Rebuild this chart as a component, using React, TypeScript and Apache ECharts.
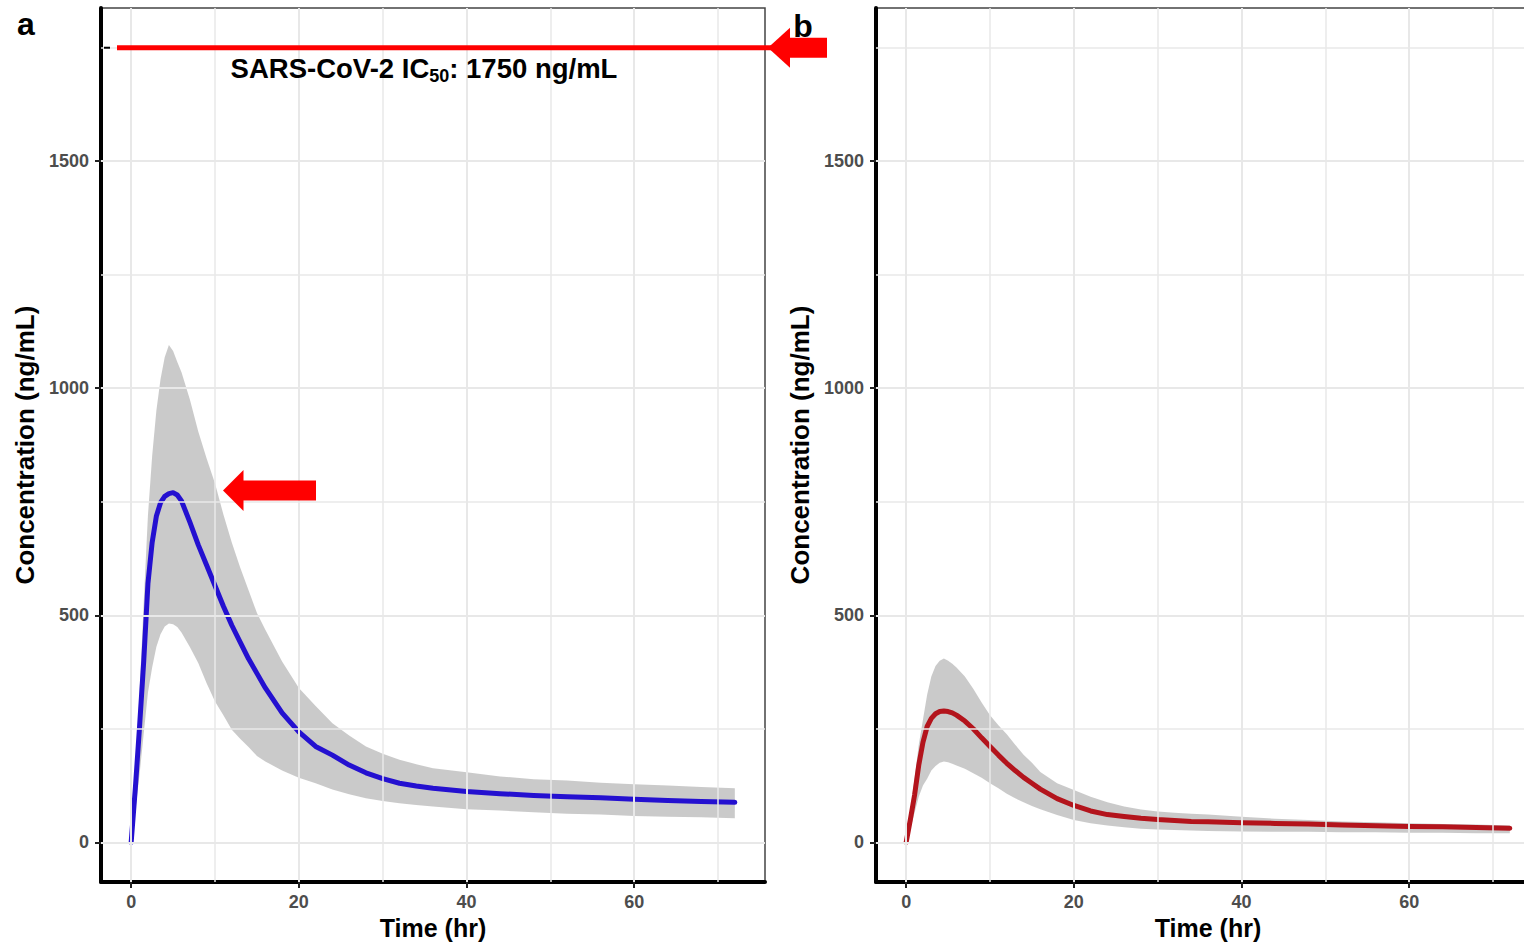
import React, { useEffect, useRef } from "react";
import * as echarts from "echarts";

const time = [0, 0.5, 1, 1.5, 2, 2.5, 3, 3.5, 4, 4.5, 5, 5.5, 6, 7, 8, 9, 10, 11, 12, 13, 14, 15, 16, 18, 20, 22, 24, 26, 28, 30, 32, 34, 36, 40, 44, 48, 52, 56, 60, 64, 68, 72];

const medianA = [0, 120, 255, 400, 570, 660, 718, 748, 762, 768, 770, 765, 752, 705, 655, 610, 565, 520, 478, 441, 404, 372, 340, 285, 243, 211, 192, 170, 153, 140, 130, 124, 119, 112, 107, 103, 100, 98, 95, 92, 90, 88];
const upperA = [0, 150, 330, 530, 720, 850, 950, 1020, 1068, 1095, 1082, 1058, 1035, 975, 905, 845, 790, 722, 660, 605, 555, 505, 468, 398, 340, 300, 262, 235, 211, 195, 182, 172, 163, 154, 145, 139, 136, 131, 128, 125, 122, 119];
const lowerA = [0, 70, 150, 240, 330, 385, 430, 458, 475, 482, 480, 474, 462, 430, 395, 350, 310, 280, 248, 228, 210, 190, 178, 158, 142, 130, 116, 106, 97, 91, 86, 82, 79, 73, 70, 66, 63, 61, 58, 56, 55, 53];

const medianB = [0, 50, 104, 170, 220, 255, 273, 283, 288, 289, 288, 285, 280, 267, 250, 230, 211, 192, 174, 158, 143, 130, 117, 96, 81, 69, 61, 57, 53, 50, 48, 46, 45, 43, 41.5, 40, 38, 36.5, 35, 34, 32.5, 31];
const upperB = [0, 70, 140, 215, 270, 325, 365, 388, 400, 405, 400, 393, 385, 365, 338, 308, 280, 258, 238, 215, 193, 175, 155, 130, 115, 100, 88, 79, 72, 68, 65, 63, 61, 56, 52, 49, 46, 44, 42, 40, 39, 37];
const lowerB = [0, 30, 65, 100, 125, 140, 158, 168, 175, 178, 176, 173, 169, 162, 152, 142, 130, 119, 107, 97, 88, 80, 73, 60, 49, 42, 37, 33, 30, 28, 27, 26, 25, 24, 23, 23, 22, 22, 21, 21, 20, 20];

const xTicks = [0, 20, 40, 60];
const yTicks = [0, 500, 1000, 1500];
const xGridMajor = [0, 20, 40, 60];
const xGridMinor = [10, 30, 50, 70];
const yGridMajor = [0, 500, 1000, 1500];
const yGridMinor = [250, 750, 1250, 1750];
const IC50 = 1750;

const X_MIN = -3.6;
const X_MAX = 75.6;
const Y_MIN = -87.5;
const Y_MAX = 1837.5;

const FONT = '"Liberation Sans", Arial, sans-serif';
const BLUE = "#2410D0";
const RED = "#B3141C";
const BAND = "rgba(150,150,150,0.5)";
const GRIDC = "#e8e8e8";

function xAxisFor(gridIndex: number) {
  return {
    type: "value",
    gridIndex,
    min: X_MIN,
    max: X_MAX,
    name: "Time (hr)",
    nameLocation: "middle",
    nameGap: 32,
    nameTextStyle: { fontSize: 25, fontWeight: "bold", color: "#000", fontFamily: FONT },
    axisLine: { show: true, onZero: false, lineStyle: { color: "#000", width: 4 } },
    axisTick: { show: true, customValues: xTicks, length: 6, lineStyle: { color: "#222", width: 2 } },
    axisLabel: { show: true, customValues: xTicks, formatter: (v: number) => String(v), fontSize: 18, fontWeight: "bold", color: "#4d4d4d", margin: 11, fontFamily: FONT },
    splitLine: { show: false },
  };
}

function yAxisFor(gridIndex: number) {
  return {
    type: "value",
    gridIndex,
    min: Y_MIN,
    max: Y_MAX,
    name: "Concentration (ng/mL)",
    nameLocation: "middle",
    nameGap: 63,
    nameRotate: 90,
    nameTextStyle: { fontSize: 26, fontWeight: "bold", color: "#000", fontFamily: FONT },
    axisLine: { show: true, onZero: false, lineStyle: { color: "#000", width: 4 } },
    axisTick: { show: true, customValues: yTicks, length: 6, lineStyle: { color: "#222", width: 2 } },
    axisLabel: { show: true, customValues: yTicks, formatter: (v: number) => String(v), fontSize: 18, fontWeight: "bold", color: "#4d4d4d", margin: 12, fontFamily: FONT },
    splitLine: { show: false },
  };
}

function gridSeries(idx: number) {
  const data: any[] = [];
  xGridMajor.forEach((v) => data.push({ xAxis: v, lineStyle: { width: 2 } }));
  xGridMinor.forEach((v) => data.push({ xAxis: v, lineStyle: { width: 1.5 } }));
  yGridMajor.forEach((v) => data.push({ yAxis: v, lineStyle: { width: 2 } }));
  yGridMinor.forEach((v) => data.push({ yAxis: v, lineStyle: { width: 1.5 } }));
  return {
    type: "line",
    xAxisIndex: idx,
    yAxisIndex: idx,
    data: [],
    silent: true,
    z: 1,
    markLine: {
      silent: true,
      symbol: ["none", "none"],
      label: { show: false },
      animation: false,
      lineStyle: { color: GRIDC, type: "solid", width: 2 },
      emphasis: { disabled: true },
      data,
    },
  };
}

function bandSeries(idx: number, upper: number[], lower: number[]) {
  return {
    type: "custom",
    xAxisIndex: idx,
    yAxisIndex: idx,
    silent: true,
    z: 2,
    data: [[time[0], lower[0]]],
    renderItem: (_params: any, api: any) => {
      const pts: number[][] = [];
      for (let i = 0; i < time.length; i++) pts.push(api.coord([time[i], upper[i]]));
      for (let i = time.length - 1; i >= 0; i--) pts.push(api.coord([time[i], lower[i]]));
      return { type: "polygon", shape: { points: pts }, style: { fill: BAND, stroke: null } };
    },
  };
}

function medianSeries(idx: number, values: number[], color: string) {
  return {
    type: "line",
    xAxisIndex: idx,
    yAxisIndex: idx,
    silent: true,
    z: 3,
    showSymbol: false,
    symbol: "none",
    lineStyle: { color, width: 5, cap: "round", join: "round" },
    data: time.map((t, i) => [t, values[i]]),
  };
}

function measure(text: string, font: string): number {
  const c = document.createElement("canvas").getContext("2d");
  if (!c) return text.length * 12;
  c.font = font;
  return c.measureText(text).width;
}

export default function App() {
  const ref = useRef<HTMLDivElement>(null);
  useEffect(() => {
    const el = ref.current;
    if (!el) return;
    const chart = echarts.init(el, null, { renderer: "svg", width: 1524, height: 944 });
    chart.setOption({
      animation: false,
      backgroundColor: "#fff",
      grid: [
        { left: 101, top: 8, width: 664, height: 874, outerBoundsMode: "none", containLabel: false, show: true, borderColor: "#444", borderWidth: 1.5, backgroundColor: "transparent" },
        { left: 876, top: 8, width: 664, height: 874, outerBoundsMode: "none", containLabel: false, show: true, borderColor: "#444", borderWidth: 1.5, backgroundColor: "transparent" },
      ],
      xAxis: [xAxisFor(0), xAxisFor(1)],
      yAxis: [yAxisFor(0), yAxisFor(1)],
      series: [
        gridSeries(0),
        bandSeries(0, upperA, lowerA),
        medianSeries(0, medianA, BLUE),
        gridSeries(1),
        bandSeries(1, upperB, lowerB),
        medianSeries(1, medianB, RED),
      ],
    });

    const p = chart.convertToPixel({ gridIndex: 0 }, [0, IC50]) as number[];
    const yIC = p[1];

    const mainSize = 27.5;
    const subSize = 18;
    const part1 = "SARS-CoV-2 IC";
    const part2 = "50";
    const part3 = ": 1750 ng/mL";
    const w1 = measure(part1, `bold ${mainSize}px ${FONT}`);
    const w2 = measure(part2, `bold ${subSize}px ${FONT}`);
    const w3 = measure(part3, `bold ${mainSize}px ${FONT}`);
    const total = w1 + w2 + w3;
    const cx = 424;
    const x0 = cx - total / 2;
    const mainY = yIC + 21;
    const subY = yIC + 28;
    const Z = 100;

    chart.setOption({
      graphic: [
        { type: "text", z: Z, x: 26, y: 24, silent: true, style: { text: "a", font: `bold 32px ${FONT}`, fill: "#000", align: "center", verticalAlign: "middle" } },
        { type: "text", z: Z, x: 803, y: 26, silent: true, style: { text: "b", font: `bold 32px ${FONT}`, fill: "#000", align: "center", verticalAlign: "middle" } },
        { type: "rect", z: Z, silent: true, shape: { x: 104, y: yIC - 1, width: 6, height: 2 }, style: { fill: "#000" } },
        { type: "rect", z: Z, silent: true, shape: { x: 117, y: yIC - 2.5, width: 655, height: 5 }, style: { fill: "#ff0000" } },
        { type: "polygon", z: Z, silent: true, shape: { points: [[768, yIC], [790, yIC - 20], [790, yIC + 20]] }, style: { fill: "#ff0000" } },
        { type: "rect", z: Z, silent: true, shape: { x: 789, y: yIC - 10, width: 38, height: 20 }, style: { fill: "#ff0000" } },
        { type: "text", z: Z, x: x0, y: mainY, silent: true, style: { text: part1, font: `bold ${mainSize}px ${FONT}`, fill: "#000", align: "left", verticalAlign: "middle" } },
        { type: "text", z: Z, x: x0 + w1, y: subY, silent: true, style: { text: part2, font: `bold ${subSize}px ${FONT}`, fill: "#000", align: "left", verticalAlign: "middle" } },
        { type: "text", z: Z, x: x0 + w1 + w2, y: mainY, silent: true, style: { text: part3, font: `bold ${mainSize}px ${FONT}`, fill: "#000", align: "left", verticalAlign: "middle" } },
        { type: "polygon", z: Z, silent: true, shape: { points: [[223, 490.5], [243.5, 470], [243.5, 511]] }, style: { fill: "#ff0000" } },
        { type: "rect", z: Z, silent: true, shape: { x: 243, y: 480.5, width: 73, height: 20 }, style: { fill: "#ff0000" } },
      ],
    });

    return () => chart.dispose();
  }, []);
  return <div ref={ref} style={{ position: "fixed", left: 0, top: 0, width: 1524, height: 944, background: "#fff" }} />;
}
